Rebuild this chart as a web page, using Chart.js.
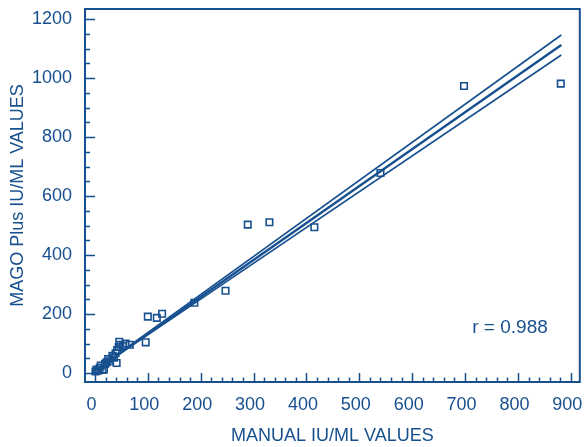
<!DOCTYPE html>
<html><head><meta charset="utf-8">
<script src="https://cdn.jsdelivr.net/npm/chart.js@4/dist/chart.umd.min.js"></script>
<style>html,body{margin:0;padding:0;background:#fff}canvas{display:block}</style>
</head><body>
<canvas id="c" width="586" height="447"></canvas>
<script>
// ---- data ----
const manualValues = [1, 3, 6, 9, 11, 14, 17, 19, 22, 25, 28, 33, 36, 39, 41, 42, 45, 46, 48, 53, 58, 66, 96, 100, 117, 127, 188, 247, 289, 330, 415, 540, 698, 881];
const magoValues   = [5, 12, 8, 18, 25, 10, 12, 31, 36, 47, 40, 58, 52, 67, 34, 78, 88, 106, 96, 92, 100, 96, 104, 191, 187, 201, 238, 279, 503, 511, 494, 678, 973, 981];
const fitX      = [0, 882];
const fitCenter = [8, 1112];
const fitUpper  = [8, 1146];
const fitLower  = [8, 1078];
const xTickValues = [0, 100, 200, 300, 400, 500, 600, 700, 800, 900];
const yTickValues = [0, 200, 400, 600, 800, 1000, 1200];
const xTitle = 'MANUAL IU/ML VALUES';
const yTitle = 'MAGO Plus IU/ML VALUES';
const rLabel = 'r = 0.988';
const rLabelAt = {x: 785, y: 155};

// ---- style ----
const BLUE = '#17508f';
const FONT = '"Liberation Sans", Arial, Helvetica, sans-serif';

const pts = manualValues.map((v, i) => ({x: v, y: magoValues[i]}));
const mk = arr => fitX.map((v, i) => ({x: v, y: arr[i]}));

const frameTicks = {
  id: 'frameTicks',
  afterDatasetsDraw(chart) {
    const {ctx, chartArea: a, scales: {x, y}} = chart;
    ctx.save();
    ctx.strokeStyle = BLUE;
    ctx.lineWidth = 1.5;
    ctx.beginPath();
    for (let v = 0; v <= 900; v += 20) {
      const px = Math.round(x.getPixelForValue(v)) + 0.5;
      const len = v % 100 === 0 ? 9 : 4.5;
      ctx.moveTo(px, a.bottom); ctx.lineTo(px, a.bottom - len);
    }
    for (let v = 0; v <= 1200; v += 50) {
      const py = Math.round(y.getPixelForValue(v)) + 0.5;
      const len = v % 200 === 0 ? 10 : 5;
      ctx.moveTo(a.left, py); ctx.lineTo(a.left + len, py);
    }
    ctx.stroke();
    ctx.lineWidth = 2;
    ctx.strokeRect(a.left, a.top, a.right - a.left, a.bottom - a.top);
    ctx.fillStyle = BLUE;
    ctx.font = '19px ' + FONT;
    ctx.textAlign = 'center';
    ctx.textBaseline = 'middle';
    ctx.fillText(rLabel, x.getPixelForValue(rLabelAt.x), y.getPixelForValue(rLabelAt.y));
    ctx.restore();
  }
};

new Chart(document.getElementById('c'), {
  type: 'scatter',
  data: {
    datasets: [
      {data: pts, pointStyle: 'rect', pointRadius: 4.6, pointBorderWidth: 1.6,
       borderColor: BLUE, backgroundColor: 'rgba(0,0,0,0)', pointHoverRadius: 4.6},
      {data: mk(fitCenter), showLine: true, pointRadius: 0, borderColor: BLUE, borderWidth: 2.4},
      {data: mk(fitUpper), showLine: true, pointRadius: 0, borderColor: BLUE, borderWidth: 1.7},
      {data: mk(fitLower), showLine: true, pointRadius: 0, borderColor: BLUE, borderWidth: 1.7}
    ]
  },
  options: {
    responsive: false, animation: false, devicePixelRatio: 1,
    layout: {padding: {top: 9, right: 4, left: 0, bottom: 0}},
    plugins: {legend: {display: false}, tooltip: {enabled: false}},
    scales: {
      x: {
        type: 'linear', min: -18.8, max: 917,
        afterBuildTicks: s => { s.ticks = xTickValues.map(v => ({value: v})); },
        afterFit: s => { s.height = 65; s.paddingLeft = 0; s.paddingRight = 0; },
        grid: {display: false, drawTicks: false}, border: {display: false},
        ticks: {color: BLUE, font: {family: FONT, size: 18}, padding: 12, labelOffset: -3.5,
                maxRotation: 0, autoSkip: false, callback: v => String(v)},
        title: {display: true, text: xTitle, color: BLUE, font: {family: FONT, size: 18},
                padding: {top: 0, bottom: 0}}
      },
      y: {
        type: 'linear', min: -30.5, max: 1234,
        afterBuildTicks: s => { s.ticks = yTickValues.map(v => ({value: v})); },
        afterFit: s => { s.width = 85; s.paddingTop = 0; s.paddingBottom = 0; },
        grid: {display: false, drawTicks: false}, border: {display: false},
        ticks: {color: BLUE, font: {family: FONT, size: 18}, padding: 13, autoSkip: false,
                callback: v => String(v)},
        title: {display: true, text: yTitle, color: BLUE, font: {family: FONT, size: 18},
                padding: {top: 7, bottom: 7}}
      }
    }
  },
  plugins: [frameTicks]
});
</script>
</body></html>
